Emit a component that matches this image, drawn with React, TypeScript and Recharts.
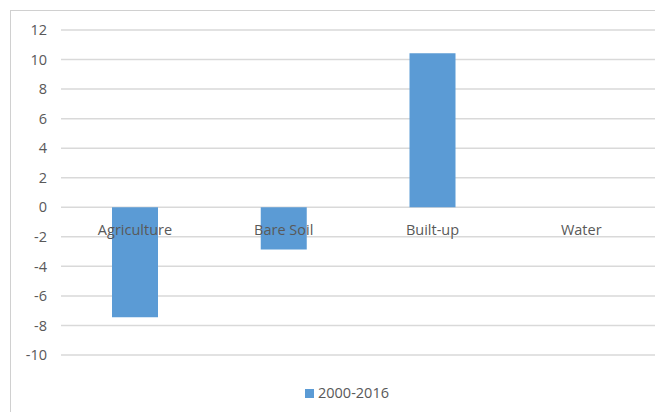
import { BarChart, Bar, XAxis, YAxis, CartesianGrid, Legend, LabelList } from "recharts";

// ─── Data ────────────────────────────────────────────────
const CATEGORIES = ["Agriculture", "Bare Soil", "Built-up", "Water"];
const CHANGE_2000_2016 = [-7.44, -2.85, 10.42, 0];
const Y_TICKS = [-10, -8, -6, -4, -2, 0, 2, 4, 6, 8, 10, 12];
const SERIES_NAME = "2000-2016";

const rows = CATEGORIES.map((category, i) => ({
  category,
  change: CHANGE_2000_2016[i],
}));

const TEXT = "#595959";
const GRID = "#d9d9d9";
const BLUE = "#5b9bd5";

// Category names sit just under the zero line, like an axis crossing at 0
function ZeroLabel(props: any) {
  const { x, y, width, height, index } = props;
  const v = CHANGE_2000_2016[index];
  const zero = v < 0 && height > 0 ? y : y + height;
  return (
    <text
      x={x + width / 2}
      y={zero + 22}
      textAnchor="middle"
      dominantBaseline="central"
      fill={TEXT}
      fontSize={14.5}
    >
      {CATEGORIES[index]}
    </text>
  );
}

export default function App() {
  return (
    <div
      style={{
        position: "relative",
        width: 655,
        height: 404,
        fontFamily: "'Open Sans', sans-serif",
      }}
    >
      {/* chart area frame */}
      <div
        style={{
          position: "absolute",
          left: 2,
          top: 2,
          width: 700,
          height: 500,
          borderLeft: "1px solid #d0d0d0",
          borderTop: "1px solid #d0d0d0",
        }}
      />
      <BarChart
        width={655}
        height={404}
        data={rows}
        margin={{ top: 22, right: 7, bottom: 57, left: 0 }}
        barSize={46}
      >
        <CartesianGrid vertical={false} stroke={GRID} strokeWidth={1.5} />
        <XAxis dataKey="category" hide />
        <YAxis
          width={53}
          domain={[-10, 12]}
          ticks={Y_TICKS}
          interval={0}
          axisLine={false}
          tickLine={false}
          tickMargin={8}
          tick={{ fill: TEXT, fontSize: 14.5 }}
        />
        <Legend
          layout="horizontal"
          verticalAlign="middle"
          align="center"
          iconType="square"
          iconSize={9}
          wrapperStyle={{ left: 297, top: 373, width: "auto" }}
          formatter={(value: string) => (
            <span style={{ color: TEXT, fontSize: 14.5 }}>{value}</span>
          )}
        />
        <Bar
          dataKey="change"
          name={SERIES_NAME}
          fill={BLUE}
          minPointSize={0.01}
          isAnimationActive={false}
        >
          <LabelList dataKey="category" content={<ZeroLabel />} />
        </Bar>
      </BarChart>
    </div>
  );
}
